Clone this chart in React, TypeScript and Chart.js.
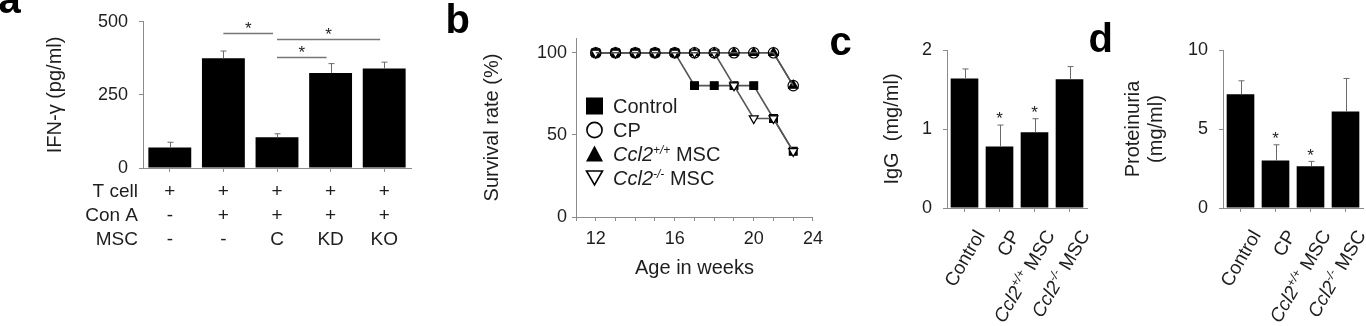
import { useEffect, useRef } from 'react';
import { Chart, registerables } from 'chart.js';

Chart.register(...registerables);

const FONT = "'Liberation Sans', Arial, Helvetica, sans-serif";
const INK = '#1e1e1e';
const AXIS = '#8c8c8c';
const WHISKER = '#6a6a6a';
const LINE = '#555555';

// ---------- a: IFN-γ secretion ----------
const ifnGroups = ['T cell', 'T cell + Con A', 'T cell + Con A + C', 'T cell + Con A + KD', 'T cell + Con A + KO'];
const ifnMeans = [70, 375, 105, 325, 340];
const ifnSem = [18, 25, 12, 32, 22];
const conditionRows = ['T cell', 'Con A', 'MSC'];
const tCellMarks = ['+', '+', '+', '+', '+'];
const conAMarks = ['-', '+', '+', '+', '+'];
const mscMarks = ['-', '-', 'C', 'KD', 'KO'];
// [from group, to group, bracket level in pg/ml]
const ifnBrackets: [number, number, number][] = [
  [1, 2, 463],
  [2, 4, 440],
  [2, 3, 380],
];

// ---------- b: survival ----------
const ageWeeks = [12, 13, 14, 15, 16, 17, 18, 19, 20, 21, 22];
const survControl = [100, 100, 100, 100, 100, 80, 80, 80, 80, 60, 40];
const survCP = [100, 100, 100, 100, 100, 100, 100, 100, 100, 100, 80];
const survWtMsc = [100, 100, 100, 100, 100, 100, 100, 100, 100, 100, 80];
const survKoMsc = [100, 100, 100, 100, 100, 100, 100, 80, 60, 60, 40];
const survTicks = [0, 50, 100];
const ageTickLabels: Record<number, string> = { 12: '12', 16: '16', 20: '20', 23: '24' };

// ---------- c, d: serum IgG and proteinuria ----------
const treatmentGroups = ['Control', 'CP', 'Ccl2+/+ MSC', 'Ccl2-/- MSC'];
const iggMeans = [1.64, 0.78, 0.96, 1.63];
const iggSem = [0.12, 0.27, 0.17, 0.16];
const iggSignificant = [false, true, true, false];
const proteinMeans = [7.2, 3.0, 2.65, 6.1];
const proteinSem = [0.85, 1.0, 0.3, 2.1];
const proteinSignificant = [false, true, true, false];

type Seg = { text: string; italic?: boolean; sup?: boolean };

// "Ccl2+/+ MSC" -> italic gene name, superscript genotype, plain suffix
function genotypeSegs(label: string): Seg[] {
  const m = /^(Ccl2)(\S+)(\s.*)$/.exec(label);
  if (!m) return [{ text: label }];
  return [
    { text: m[1], italic: true },
    { text: m[2], italic: true, sup: true },
    { text: m[3] },
  ];
}

function segFont(s: Seg, size: number) {
  return `${s.italic ? 'italic ' : ''}${s.sup ? Math.round(size * 0.62) : size}px ${FONT}`;
}

function drawRich(ctx: CanvasRenderingContext2D, segs: Seg[], x: number, y: number, size: number, align: 'left' | 'right') {
  let total = 0;
  const widths = segs.map((s) => {
    ctx.font = segFont(s, size);
    const w = ctx.measureText(s.text).width;
    total += w;
    return w;
  });
  let cx = align === 'right' ? x - total : x;
  ctx.textAlign = 'left';
  ctx.textBaseline = 'alphabetic';
  segs.forEach((s, i) => {
    ctx.font = segFont(s, size);
    ctx.fillText(s.text, cx, s.sup ? y - size * 0.38 : y);
    cx += widths[i];
  });
}

function drawStar(ctx: CanvasRenderingContext2D, x: number, cy: number, size: number) {
  ctx.font = `${size}px ${FONT}`;
  ctx.textAlign = 'center';
  ctx.textBaseline = 'alphabetic';
  ctx.fillText('*', x, cy + size * 0.58);
}

const tickFont = { family: FONT, size: 18 };
const titleFont = { family: FONT, size: 20, lineHeight: 1.15 };
const axisBorder = { display: true, color: AXIS, width: 1 };
function axisGrid(len: number, offset = false) {
  return { display: true, drawOnChartArea: false, drawTicks: true, tickLength: len, color: AXIS, lineWidth: 1, offset };
}

function panelLetter(letter: string, x: number, y: number) {
  return {
    id: 'panelLetter',
    afterDraw(chart: any) {
      const ctx: CanvasRenderingContext2D = chart.ctx;
      ctx.save();
      ctx.font = `bold 40px ${FONT}`;
      ctx.fillStyle = '#000';
      ctx.textAlign = 'left';
      ctx.textBaseline = 'alphabetic';
      ctx.fillText(letter, x, y);
      ctx.restore();
    },
  };
}

// upward error whiskers (mean + SEM) with optional significance stars
function whiskers(sem: number[], stars?: boolean[]) {
  return {
    id: 'whiskers',
    afterDatasetsDraw(chart: any) {
      const ctx: CanvasRenderingContext2D = chart.ctx;
      const y = chart.scales.y;
      const vals = chart.data.datasets[0].data as number[];
      const meta = chart.getDatasetMeta(0);
      ctx.save();
      ctx.strokeStyle = WHISKER;
      ctx.fillStyle = INK;
      ctx.lineWidth = 1;
      meta.data.forEach((bar: any, i: number) => {
        const x = Math.round(bar.x) + 0.5;
        const top = y.getPixelForValue(vals[i]);
        const end = y.getPixelForValue(vals[i] + sem[i]);
        ctx.beginPath();
        ctx.moveTo(x, top);
        ctx.lineTo(x, end);
        ctx.moveTo(x - 3, end);
        ctx.lineTo(x + 3, end);
        ctx.stroke();
        if (stars && stars[i]) drawStar(ctx, bar.x, end - 10.5, 17);
      });
      ctx.restore();
    },
  };
}

function configIfn(): any {
  return {
    type: 'bar',
    data: {
      labels: ifnGroups,
      datasets: [
        { data: ifnMeans, backgroundColor: '#000', borderWidth: 0, barPercentage: 0.8, categoryPercentage: 1 },
      ],
    },
    options: {
      animation: false,
      responsive: false,
      devicePixelRatio: 1,
      layout: { padding: { left: 0, top: 10, right: 9, bottom: 0 } },
      plugins: { legend: { display: false }, tooltip: { enabled: false } },
      scales: {
        x: {
          grid: axisGrid(4),
          border: axisBorder,
          ticks: { display: false },
          afterFit: (s: any) => { s.height = 158; },
        },
        y: {
          min: 0,
          max: 500,
          afterBuildTicks: (s: any) => { s.ticks = [0, 250, 500].map((v) => ({ value: v })); },
          ticks: { font: tickFont, color: INK, padding: 11 },
          grid: axisGrid(4),
          border: axisBorder,
          title: { display: true, text: 'IFN-\u03b3 (pg/ml)', font: titleFont, color: INK, padding: { top: 43.5, bottom: 0 } },
          afterFit: (s: any) => { s.width = 143; },
        },
      },
    },
    plugins: [
      whiskers(ifnSem),
      {
        id: 'ifnExtras',
        afterDraw(chart: any) {
          const ctx: CanvasRenderingContext2D = chart.ctx;
          const xs = chart.scales.x;
          const ys = chart.scales.y;
          ctx.save();
          // significance brackets
          ctx.strokeStyle = '#777';
          ctx.lineWidth = 1.5;
          ctx.fillStyle = INK;
          ifnBrackets.forEach(([a, b, level]) => {
            const x0 = xs.getPixelForValue(a);
            const x1 = xs.getPixelForValue(b) - 4;
            const yy = Math.round(ys.getPixelForValue(level)) + 0.5;
            ctx.beginPath();
            ctx.moveTo(x0, yy);
            ctx.lineTo(x1, yy);
            ctx.stroke();
            drawStar(ctx, (x0 + x1) / 2, yy - 9.5, 17);
          });
          // condition table under the bars
          const rows = [tCellMarks, conAMarks, mscMarks];
          const rowY = [190, 214.5, 238.5];
          ctx.font = `19px ${FONT}`;
          ctx.textBaseline = 'alphabetic';
          rows.forEach((marks, r) => {
            const base = rowY[r] + 6.8;
            ctx.textAlign = 'right';
            ctx.fillText(conditionRows[r], 138, base);
            ctx.textAlign = 'center';
            marks.forEach((m, i) => ctx.fillText(m, xs.getPixelForValue(i), base));
          });
          ctx.restore();
        },
      },
      panelLetter('a', -1.6, 13),
    ],
  };
}

// drawing order: lower `order` ends up on top; the open circles sit above with a clear fill
const survSeries = [
  { label: treatmentGroups[0], data: survControl, kind: 'square', order: 3, pointStyle: 'rect', radius: 5.5, fill: '#000', rot: 0 },
  { label: treatmentGroups[1], data: survCP, kind: 'circle', order: 0, pointStyle: 'circle', radius: 5.2, fill: 'rgba(255,255,255,0)', rot: 0 },
  { label: treatmentGroups[2], data: survWtMsc, kind: 'up', order: 2, pointStyle: 'triangle', radius: 5.2, fill: '#000', rot: 0 },
  { label: treatmentGroups[3], data: survKoMsc, kind: 'down', order: 1, pointStyle: 'triangle', radius: 5.2, fill: '#fff', rot: 180 },
];

function legendMarker(ctx: CanvasRenderingContext2D, kind: string, x: number, y: number) {
  ctx.beginPath();
  ctx.lineWidth = 1.6;
  ctx.strokeStyle = '#000';
  if (kind === 'square') {
    ctx.rect(x - 8.5, y - 8.5, 17, 17);
    ctx.fillStyle = '#000';
    ctx.fill();
  } else if (kind === 'circle') {
    ctx.arc(x, y, 7.6, 0, Math.PI * 2);
    ctx.fillStyle = '#fff';
    ctx.fill();
    ctx.stroke();
  } else if (kind === 'up') {
    ctx.moveTo(x, y - 8.5);
    ctx.lineTo(x + 8.5, y + 7.5);
    ctx.lineTo(x - 8.5, y + 7.5);
    ctx.closePath();
    ctx.fillStyle = '#000';
    ctx.fill();
  } else {
    ctx.moveTo(x - 8, y - 7);
    ctx.lineTo(x + 8, y - 7);
    ctx.lineTo(x, y + 7);
    ctx.closePath();
    ctx.fillStyle = '#fff';
    ctx.fill();
    ctx.stroke();
  }
}

function configSurvival(): any {
  return {
    type: 'line',
    data: {
      datasets: survSeries.map((s) => ({
        label: s.label,
        data: ageWeeks.map((w, i) => ({ x: w, y: s.data[i] })),
        order: s.order,
        borderColor: LINE,
        borderWidth: 1.6,
        tension: 0,
        fill: false,
        pointStyle: s.pointStyle,
        pointRadius: s.radius,
        pointRotation: s.rot,
        pointBackgroundColor: s.fill,
        pointBorderColor: '#000',
        pointBorderWidth: 1.2,
      })),
    },
    options: {
      animation: false,
      responsive: false,
      devicePixelRatio: 1,
      layout: { padding: { left: 0, top: 38, right: 8, bottom: 0 } },
      plugins: { legend: { display: false }, tooltip: { enabled: false } },
      scales: {
        x: {
          type: 'linear',
          min: 11,
          max: 23,
          ticks: {
            stepSize: 1,
            autoSkip: false,
            maxRotation: 0,
            font: tickFont,
            color: INK,
            padding: 7,
            callback: (v: number) => ageTickLabels[v] ?? '',
          },
          grid: axisGrid(4),
          border: axisBorder,
          title: { display: true, text: 'Age in weeks', font: titleFont, color: INK, padding: { top: 0, bottom: 46.5 } },
          afterFit: (s: any) => { s.height = 109; },
        },
        y: {
          min: 0,
          max: 109,
          afterBuildTicks: (s: any) => { s.ticks = survTicks.map((v) => ({ value: v })); },
          ticks: { font: tickFont, color: INK, padding: 5 },
          grid: axisGrid(4),
          border: axisBorder,
          title: { display: true, text: 'Survival rate (%)', font: titleFont, color: INK, padding: { top: 61, bottom: 0 } },
          afterFit: (s: any) => { s.width = 156; },
        },
      },
    },
    plugins: [
      {
        id: 'survLegend',
        afterDraw(chart: any) {
          const ctx: CanvasRenderingContext2D = chart.ctx;
          ctx.save();
          const legendOrder = [0, 1, 2, 3];
          legendOrder.forEach((k, i) => {
            const s = survSeries[k];
            const y = 106 + i * 24;
            legendMarker(ctx, s.kind, 174.5, y);
            ctx.fillStyle = INK;
            drawRich(ctx, genotypeSegs(s.label), 193, y + 7.2, 20, 'left');
          });
          ctx.restore();
        },
      },
      panelLetter('b', 25.6, 33),
    ],
  };
}

function configTreatment(
  means: number[], sem: number[], sig: boolean[], yMax: number, yStep: number,
  title: string | string[], titlePad: number, yWidth: number, padRight: number,
  letter: [string, number, number],
): any {
  return {
    type: 'bar',
    data: {
      labels: treatmentGroups,
      datasets: [
        { data: means, backgroundColor: '#000', borderWidth: 0, barPercentage: 0.79, categoryPercentage: 1 },
      ],
    },
    options: {
      animation: false,
      responsive: false,
      devicePixelRatio: 1,
      layout: { padding: { left: 0, top: 50, right: padRight, bottom: 0 } },
      plugins: { legend: { display: false }, tooltip: { enabled: false } },
      scales: {
        x: {
          grid: axisGrid(4),
          border: axisBorder,
          ticks: { display: false },
          afterFit: (s: any) => { s.height = 118; },
        },
        y: {
          min: 0,
          max: yMax,
          ticks: { stepSize: yStep, font: tickFont, color: INK, padding: 11 },
          grid: axisGrid(4),
          border: axisBorder,
          title: { display: true, text: title, font: titleFont, color: INK, padding: { top: titlePad, bottom: 0 } },
          afterFit: (s: any) => { s.width = yWidth; },
        },
      },
    },
    plugins: [
      whiskers(sem, sig),
      {
        id: 'groupLabels',
        afterDraw(chart: any) {
          const ctx: CanvasRenderingContext2D = chart.ctx;
          const xs = chart.scales.x;
          const base = chart.scales.y.getPixelForValue(0);
          const size = 19;
          ctx.save();
          ctx.fillStyle = INK;
          treatmentGroups.forEach((g, i) => {
            ctx.save();
            ctx.translate(xs.getPixelForValue(i) + 9, base + 20);
            ctx.rotate(-Math.PI / 3);
            drawRich(ctx, genotypeSegs(g), 0, size * 0.72, size, 'right');
            ctx.restore();
          });
          ctx.restore();
        },
      },
      panelLetter(letter[0], letter[1], letter[2]),
    ],
  };
}

export default function App() {
  const refA = useRef<HTMLCanvasElement>(null);
  const refB = useRef<HTMLCanvasElement>(null);
  const refC = useRef<HTMLCanvasElement>(null);
  const refD = useRef<HTMLCanvasElement>(null);

  useEffect(() => {
    const charts = [
      new Chart(refA.current as HTMLCanvasElement, configIfn()),
      new Chart(refB.current as HTMLCanvasElement, configSurvival()),
      new Chart(
        refC.current as HTMLCanvasElement,
        configTreatment(iggMeans, iggSem, iggSignificant, 2, 1, 'IgG  (mg/ml)', 50.5, 117, 13, ['c', -0.6, 55]),
      ),
      new Chart(
        refD.current as HTMLCanvasElement,
        configTreatment(proteinMeans, proteinSem, proteinSignificant, 10, 5, ['Proteinuria', '(mg/ml)'], 42, 143, 3, ['d', 8.4, 52]),
      ),
    ];
    return () => charts.forEach((c) => c.destroy());
  }, []);

  const abs = (left: number) => ({ position: 'absolute' as const, left, top: 0 });

  return (
    <div style={{ position: 'absolute', left: 0, top: 0, width: 1366, height: 326, background: '#fff', overflow: 'hidden' }}>
      <canvas ref={refA} width={420} height={326} style={abs(0)} />
      <canvas ref={refB} width={410} height={326} style={abs(420)} />
      <canvas ref={refC} width={270} height={326} style={abs(830)} />
      <canvas ref={refD} width={286} height={326} style={abs(1080)} />
    </div>
  );
}
